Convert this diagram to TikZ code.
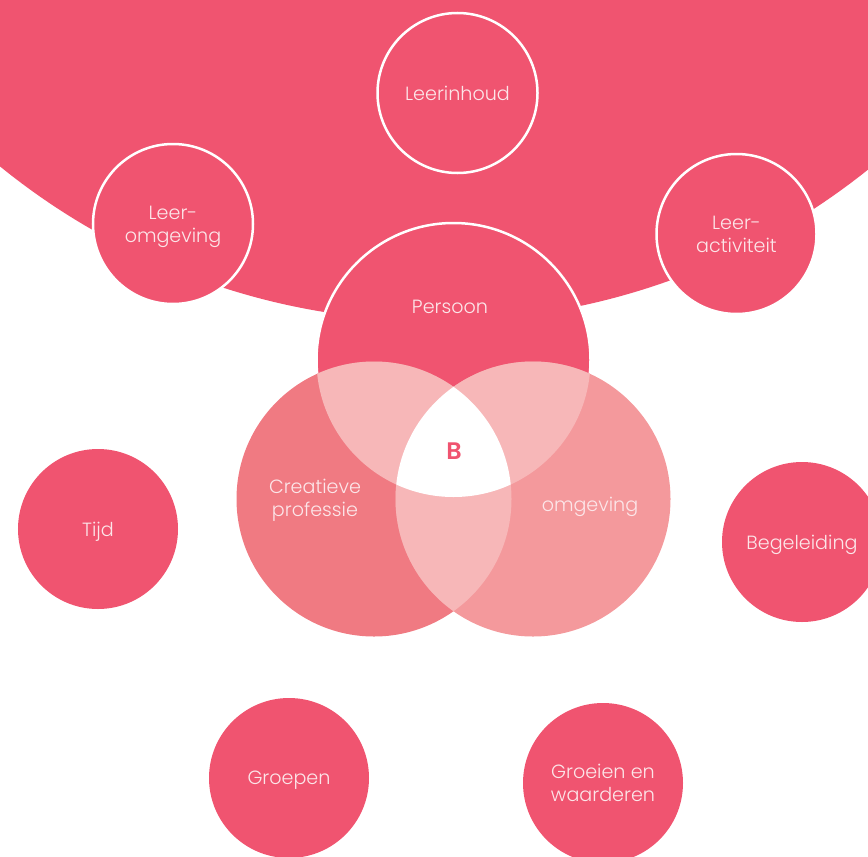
\documentclass[tikz,border=0pt]{standalone}
\usepackage{fontspec}
\setmainfont{Poppins Light}
\newfontfamily\boldfam{Poppins SemiBold}
\definecolor{mainpink}{HTML}{F05470}
\definecolor{leftpink}{HTML}{F07A82}
\definecolor{rightpink}{HTML}{F4999C}
\definecolor{overlappink}{HTML}{F7B7B8}
\definecolor{textpink}{HTML}{FCE6E9}
\tikzset{
  lbl/.style={text=textpink, align=center, text depth=0bp, font=\fontsize{19.2}{23}\selectfont},
  ringed/.style={circle, minimum size=160bp, inner sep=0pt, fill=mainpink, draw=white, line width=2.5bp, lbl},
  plain/.style={circle, minimum size=160bp, inner sep=0pt, fill=mainpink, lbl},
}
\begin{document}
\begin{tikzpicture}[x=1bp,y=-1bp]
\useasboundingbox (0,0) rectangle (868,857);
\begin{scope}
\clip (0,0) rectangle (868,857);
% big background circle
\fill[mainpink] (436,-371) circle[radius=692bp];
% top ring circles
\node[ringed] (leerinhoud) at (457.5,93) {Leerinhoud};
\node[ringed] (leeromg) at (173,224) {Leer-\\omgeving};
\node[ringed] (leeract) at (736.5,234) {Leer-\\activiteit};
% venn
\coordinate (P) at (453.5,360);
\coordinate (L) at (374,499);
\coordinate (R) at (533,499);
\fill[mainpink, draw=white, line width=2.5bp] (P) circle[radius=137bp];
\fill[leftpink] (L) circle[radius=137.5bp];
\fill[rightpink] (R) circle[radius=137.5bp];
\begin{scope}
\clip (P) circle[radius=137bp];
\fill[overlappink] (L) circle[radius=137.5bp];
\fill[overlappink] (R) circle[radius=137.5bp];
\end{scope}
\begin{scope}
\clip (L) circle[radius=137.5bp];
\fill[overlappink] (R) circle[radius=137.5bp];
\end{scope}
\begin{scope}
\clip (P) circle[radius=137bp];
\clip (L) circle[radius=137.5bp];
\fill[white] (R) circle[radius=137.5bp];
\end{scope}
\node[lbl] (persoon) at (450,307) {Persoon};
\node[lbl] (creatief) at (315,498) {Creatieve\\professie};
\node[lbl] (omgeving) at (590,504) {omgeving};
\node[text=mainpink, font=\boldfam\fontsize{24}{28}\selectfont] (b) at (454,451) {B};
% outer circles
\node[plain] (tijd) at (98,529) {Tijd};
\node[plain] (begel) at (802,542) {Begeleiding};
\node[plain] (groepen) at (289,778) {Groepen};
\node[plain] (groeien) at (603,783) {Groeien en\\waarderen};
\end{scope}
\end{tikzpicture}
\end{document}
